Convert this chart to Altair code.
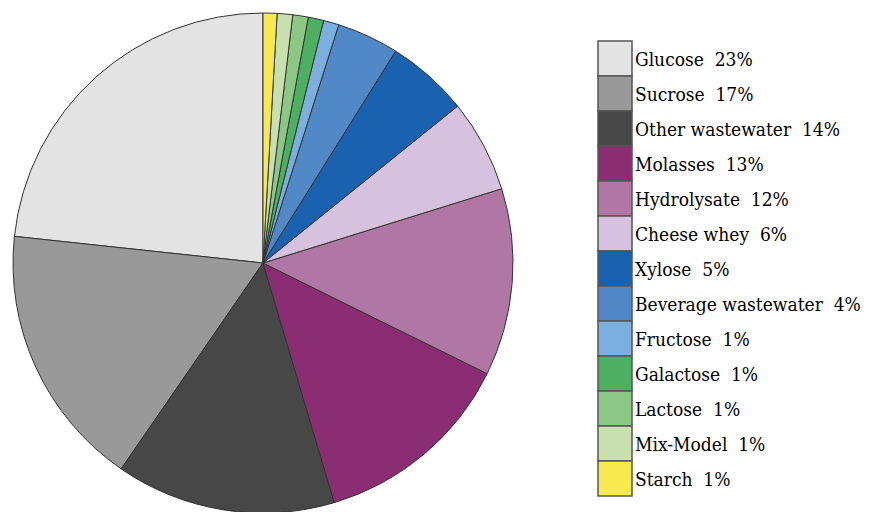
import altair as alt
import pandas as pd

categories = ["Glucose", "Sucrose", "Other wastewater", "Molasses", "Hydrolysate",
              "Cheese whey", "Xylose", "Beverage wastewater", "Fructose", "Galactose",
              "Lactose", "Mix-Model", "Starch"]
values = [23.3, 17.1, 14.2, 13.1, 12.1, 6.0, 5.3, 4.0, 1.0, 1.0, 1.0, 1.0, 0.9]
pct_labels = ["23%", "17%", "14%", "13%", "12%", "6%", "5%", "4%", "1%", "1%", "1%", "1%", "1%"]
colors = ["#e3e3e3", "#999999", "#474747", "#8a2d73", "#b077a5", "#d6c2de", "#1a62b0",
          "#5088c8", "#7aafe0", "#4caf62", "#8cc785", "#c8e0b0", "#f6ea50"]

labels = [f"{c}\u00a0 {p}" for c, p in zip(categories, pct_labels)]
n = len(categories)
df = pd.DataFrame({
    "label": labels,
    "value": values,
    "ord": [n - i for i in range(n)],  # Starch first, clockwise from top
})

color = alt.Color("label:N", scale=alt.Scale(domain=labels, range=colors), legend=None)
yleg = alt.Y("label:N", scale=alt.Scale(domain=labels, range=[41, 496], paddingInner=0,
                                         paddingOuter=0), axis=None)

base = alt.Chart(df)

pie = base.mark_arc(radius=250, stroke="#333333", strokeWidth=1).encode(
    theta=alt.Theta("value:Q", stack=True),
    order=alt.Order("ord:Q"),
    color=color,
    x=alt.value(263),
    y=alt.value(263),
)

swatch = base.mark_rect(stroke="#555555", strokeWidth=1.5).encode(
    y=yleg,
    x=alt.value(598),
    x2=alt.value(632),
    color=color,
)

text = base.mark_text(align="left", baseline="alphabetic", dy=7, fontSize=19,
                      font="DejaVu Serif Condensed", color="black").encode(
    y=yleg,
    x=alt.value(635),
    text="label:N",
)

chart = alt.layer(pie, swatch, text).properties(
    width=870, height=512, padding=0,
    autosize=alt.AutoSizeParams(type="none"),
).configure_view(stroke=None)

chart.save("out.html", embed_options={"renderer": "svg", "actions": False})
